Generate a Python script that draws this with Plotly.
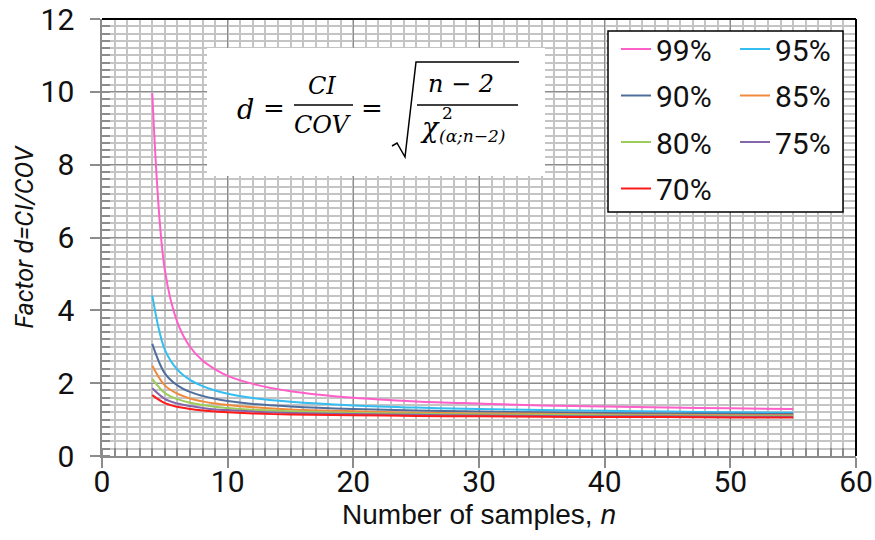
import plotly.graph_objects as go

# ---- data ----
n_samples = [4, 5, 6, 7, 8, 9, 10, 12, 15, 20, 25, 30, 35, 40, 45, 50, 55]
d99 = [9.97, 5.11, 3.67, 3.00, 2.62, 2.38, 2.20, 1.98, 1.78, 1.60, 1.50, 1.44, 1.39, 1.36, 1.33, 1.31, 1.29]
d95 = [4.41, 2.92, 2.37, 2.09, 1.92, 1.80, 1.71, 1.59, 1.49, 1.39, 1.33, 1.29, 1.26, 1.24, 1.22, 1.20, 1.19]
d90 = [3.08, 2.27, 1.94, 1.76, 1.65, 1.57, 1.51, 1.43, 1.36, 1.29, 1.25, 1.22, 1.20, 1.18, 1.17, 1.16, 1.15]
d85 = [2.48, 1.94, 1.71, 1.58, 1.50, 1.44, 1.40, 1.34, 1.28, 1.23, 1.19, 1.17, 1.16, 1.14, 1.13, 1.12, 1.12]
d80 = [2.12, 1.73, 1.56, 1.46, 1.40, 1.35, 1.32, 1.27, 1.23, 1.18, 1.16, 1.14, 1.13, 1.12, 1.11, 1.10, 1.10]
d75 = [1.86, 1.57, 1.44, 1.37, 1.32, 1.28, 1.26, 1.22, 1.18, 1.15, 1.13, 1.11, 1.10, 1.09, 1.09, 1.08, 1.08]
d70 = [1.67, 1.45, 1.35, 1.29, 1.25, 1.22, 1.20, 1.17, 1.14, 1.12, 1.10, 1.09, 1.08, 1.07, 1.07, 1.06, 1.06]

series_names = ["99%", "95%", "90%", "85%", "80%", "75%", "70%"]
series_values = [d99, d95, d90, d85, d80, d75, d70]
series_colors = ["#ff5fc8", "#33bdf0", "#4f6e9c", "#f08a3c", "#9ccc5a", "#8466aa", "#ff1a1a"]
series_legend = ["legend", "legend2", "legend", "legend2", "legend", "legend2", "legend"]

x_ticks = [0, 10, 20, 30, 40, 50, 60]
y_ticks = [0, 2, 4, 6, 8, 10, 12]

NARROW = "Roboto, Liberation Sans, Arial, sans-serif"
SANS = "Liberation Sans, Arial, sans-serif"
SERIF = "DejaVu Serif, Cambria, serif"
INK = "#111111"

W, H = 875, 540
L, R, T, B = 102, 19, 19, 84
PW, PH = W - L - R, H - T - B


def px(x):
    return (x - L) / PW


def py(y):
    return (H - B - y) / PH


fig = go.Figure()
for name, vals, col, lg in zip(series_names, series_values, series_colors, series_legend):
    fig.add_trace(go.Scatter(x=n_samples, y=vals, mode="lines", name=name,
                             legendgroup=name,
                             line=dict(color=col, width=2, shape="spline"),
                             legend=lg))

axis_common = dict(
    showline=True, linecolor="#8c8c8c", linewidth=1.5,
    ticks="outside", ticklen=10, tickcolor="#8c8c8c", tickwidth=1.5,
    showgrid=True, gridcolor="#8c8c8c", gridwidth=1.2,
    zeroline=False,
    tickfont=dict(family=NARROW, size=30, color=INK),
)

fig.update_layout(
    width=W, height=H,
    margin=dict(l=L, r=R, t=T, b=B, autoexpand=False),
    paper_bgcolor="white", plot_bgcolor="white",
    xaxis=dict(range=[0, 60], tickvals=x_ticks, ticklabelstandoff=-12, **axis_common,
               minor=dict(dtick=1, ticks="inside", ticklen=8, tickcolor="#8c8c8c",
                          showgrid=True, gridcolor="#c4c4c4", gridwidth=1.5),
               title=dict(text="Number of samples, <i>n</i>",
                          font=dict(family=SANS, size=28, color=INK), standoff=1)),
    yaxis=dict(range=[0, 12], tickvals=y_ticks, ticklabelstandoff=10, **axis_common,
               minor=dict(dtick=0.2, ticks="inside", ticklen=8, tickcolor="#8c8c8c",
                          showgrid=True, gridcolor="#c4c4c4", gridwidth=1.5),
               title=dict(text="<i>Factor d=CI/COV</i>",
                          font=dict(family=NARROW, size=25, color=INK), standoff=0)),
    legend=dict(x=px(616), y=py(23), xanchor="left", yanchor="top",
                bgcolor="rgba(0,0,0,0)", borderwidth=0, itemwidth=30, tracegroupgap=4.5,
                font=dict(family=NARROW, size=30, color=INK)),
    legend2=dict(x=px(735), y=py(23), xanchor="left", yanchor="top",
                 bgcolor="rgba(0,0,0,0)", borderwidth=0, itemwidth=30, tracegroupgap=4.5,
                 font=dict(family=NARROW, size=30, color=INK)),
    showlegend=True,
)

shapes = []
# black frame top & right
shapes.append(dict(type="line", xref="paper", yref="paper", x0=0, x1=1, y0=1, y1=1,
                   line=dict(color="black", width=2)))
shapes.append(dict(type="line", xref="paper", yref="paper", x0=1, x1=1, y0=0, y1=1,
                   line=dict(color="black", width=2)))
# equation box
shapes.append(dict(type="rect", xref="paper", yref="paper", x0=px(207), x1=px(545),
                   y0=py(176), y1=py(48), fillcolor="white", line=dict(width=0)))
# legend box
shapes.append(dict(type="rect", xref="paper", yref="paper", x0=px(608), x1=px(843),
                   y0=py(212), y1=py(31), fillcolor="white", line=dict(color="black", width=1.5)))
# fraction lines
shapes.append(dict(type="line", xref="paper", yref="paper", x0=px(294), x1=px(353),
                   y0=py(105), y1=py(105), line=dict(color="black", width=1.5)))
shapes.append(dict(type="line", xref="paper", yref="paper", x0=px(417), x1=px(518),
                   y0=py(105), y1=py(105), line=dict(color="black", width=1.5)))
# radical sign
pts = [(392, 146), (397, 143), (405, 157), (416, 62), (519, 62)]
path = "M " + " L ".join(f"{px(a):.5f},{py(b):.5f}" for a, b in pts)
shapes.append(dict(type="path", xref="paper", yref="paper", path=path,
                   line=dict(color="black", width=1.5)))
fig.update_layout(shapes=shapes)

ann = []


def add_text(text, x, y, size, italic=True, anchor="center"):
    ann.append(dict(text=(f"<i>{text}</i>" if italic else text), xref="paper", yref="paper",
                    x=px(x), y=py(y), xanchor=anchor, yanchor="middle", showarrow=False,
                    font=dict(family=SERIF, size=size, color="black")))


add_text("d", 245, 109, 27)
add_text("=", 274, 108, 26, italic=False)
add_text("CI", 322, 86, 24)
add_text("COV", 323, 125, 24)
add_text("=", 372, 108, 26, italic=False)
add_text("n − 2", 461, 84, 24)
add_text("χ", 430, 128, 27)
add_text("2", 447, 113, 17, italic=False)
add_text("(α;n−2)", 437, 136, 17, anchor="left")
fig.update_layout(annotations=ann)

fig.write_html("out.html", post_script="document.body.style.margin='0';",
               config={"displayModeBar": False})
